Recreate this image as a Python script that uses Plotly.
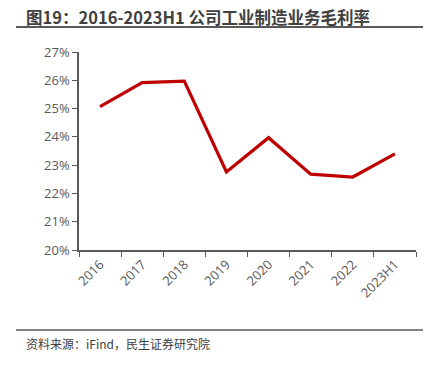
import plotly.graph_objects as go

categories = ["2016", "2017", "2018", "2019", "2020", "2021", "2022", "2023H1"]
margin_pct = [25.07, 25.92, 25.97, 22.76, 23.97, 22.68, 22.58, 23.40]
y_ticks = [20, 21, 22, 23, 24, 25, 26, 27]
y_labels = [f"{v}%" for v in y_ticks]

W, H = 435, 367
PL, PR, PT, PB = 79, 416, 52, 250   # plot area in page pixels
PW, PH = PR - PL, PB - PT

def px(x):
    return (x - PL) / PW

def py(y):
    return (PB - y) / PH

fig = go.Figure()
fig.add_trace(go.Scatter(
    x=categories, y=margin_pct, mode="lines",
    line=dict(color="#C00000", width=3.2),
    hoverinfo="skip", showlegend=False,
))

font_family = "Open Sans, Noto Sans CJK SC, sans-serif"
cjk = "Noto Sans CJK SC, sans-serif"
fig.update_layout(
    width=W, height=H,
    margin=dict(l=PL, r=W - PR, t=PT, b=H - PB),
    paper_bgcolor="white", plot_bgcolor="white",
    font=dict(family=font_family, color="#595959", size=13),
    xaxis=dict(
        type="category", range=[-0.5, 7.5], tickson="boundaries",
        ticks="outside", ticklen=5, tickcolor="#595959", tickwidth=1.3,
        showline=True, linecolor="#595959", linewidth=1.5,
        showgrid=False, tickangle=-45, tickfont=dict(size=13, color="#595959"),
    ),
    yaxis=dict(
        range=[20, 27], tickvals=y_ticks, ticktext=y_labels,
        ticks="outside", ticklen=5, tickcolor="#595959", tickwidth=1.3,
        showline=True, linecolor="#595959", linewidth=1.5,
        showgrid=False, zeroline=False, tickfont=dict(size=13, color="#595959"),
    ),
    shapes=[
        dict(type="line", xref="paper", yref="paper", x0=px(16), x1=px(423),
             y0=py(27), y1=py(27), line=dict(color="#595959", width=2)),
        dict(type="line", xref="paper", yref="paper", x0=px(16), x1=px(423),
             y0=py(330), y1=py(330), line=dict(color="#595959", width=1.3)),
    ],
    annotations=[
        dict(text="<b>图19：2016-2023H1 公司工业制造业务毛利率</b>", xref="paper", yref="paper",
             x=px(24), y=py(17), xanchor="left", yanchor="middle",
             showarrow=False, font=dict(size=16.5, color="#404040", family=cjk)),
        dict(text="资料来源：iFind，民生证券研究院", xref="paper", yref="paper",
             x=px(24), y=py(343), xanchor="left", yanchor="middle",
             showarrow=False, font=dict(size=12, color="#404040", family=cjk)),
    ],
)

fig.write_html("out.html", config={"displayModeBar": False},
               post_script="document.body.style.margin='0';document.body.style.overflow='hidden';")
